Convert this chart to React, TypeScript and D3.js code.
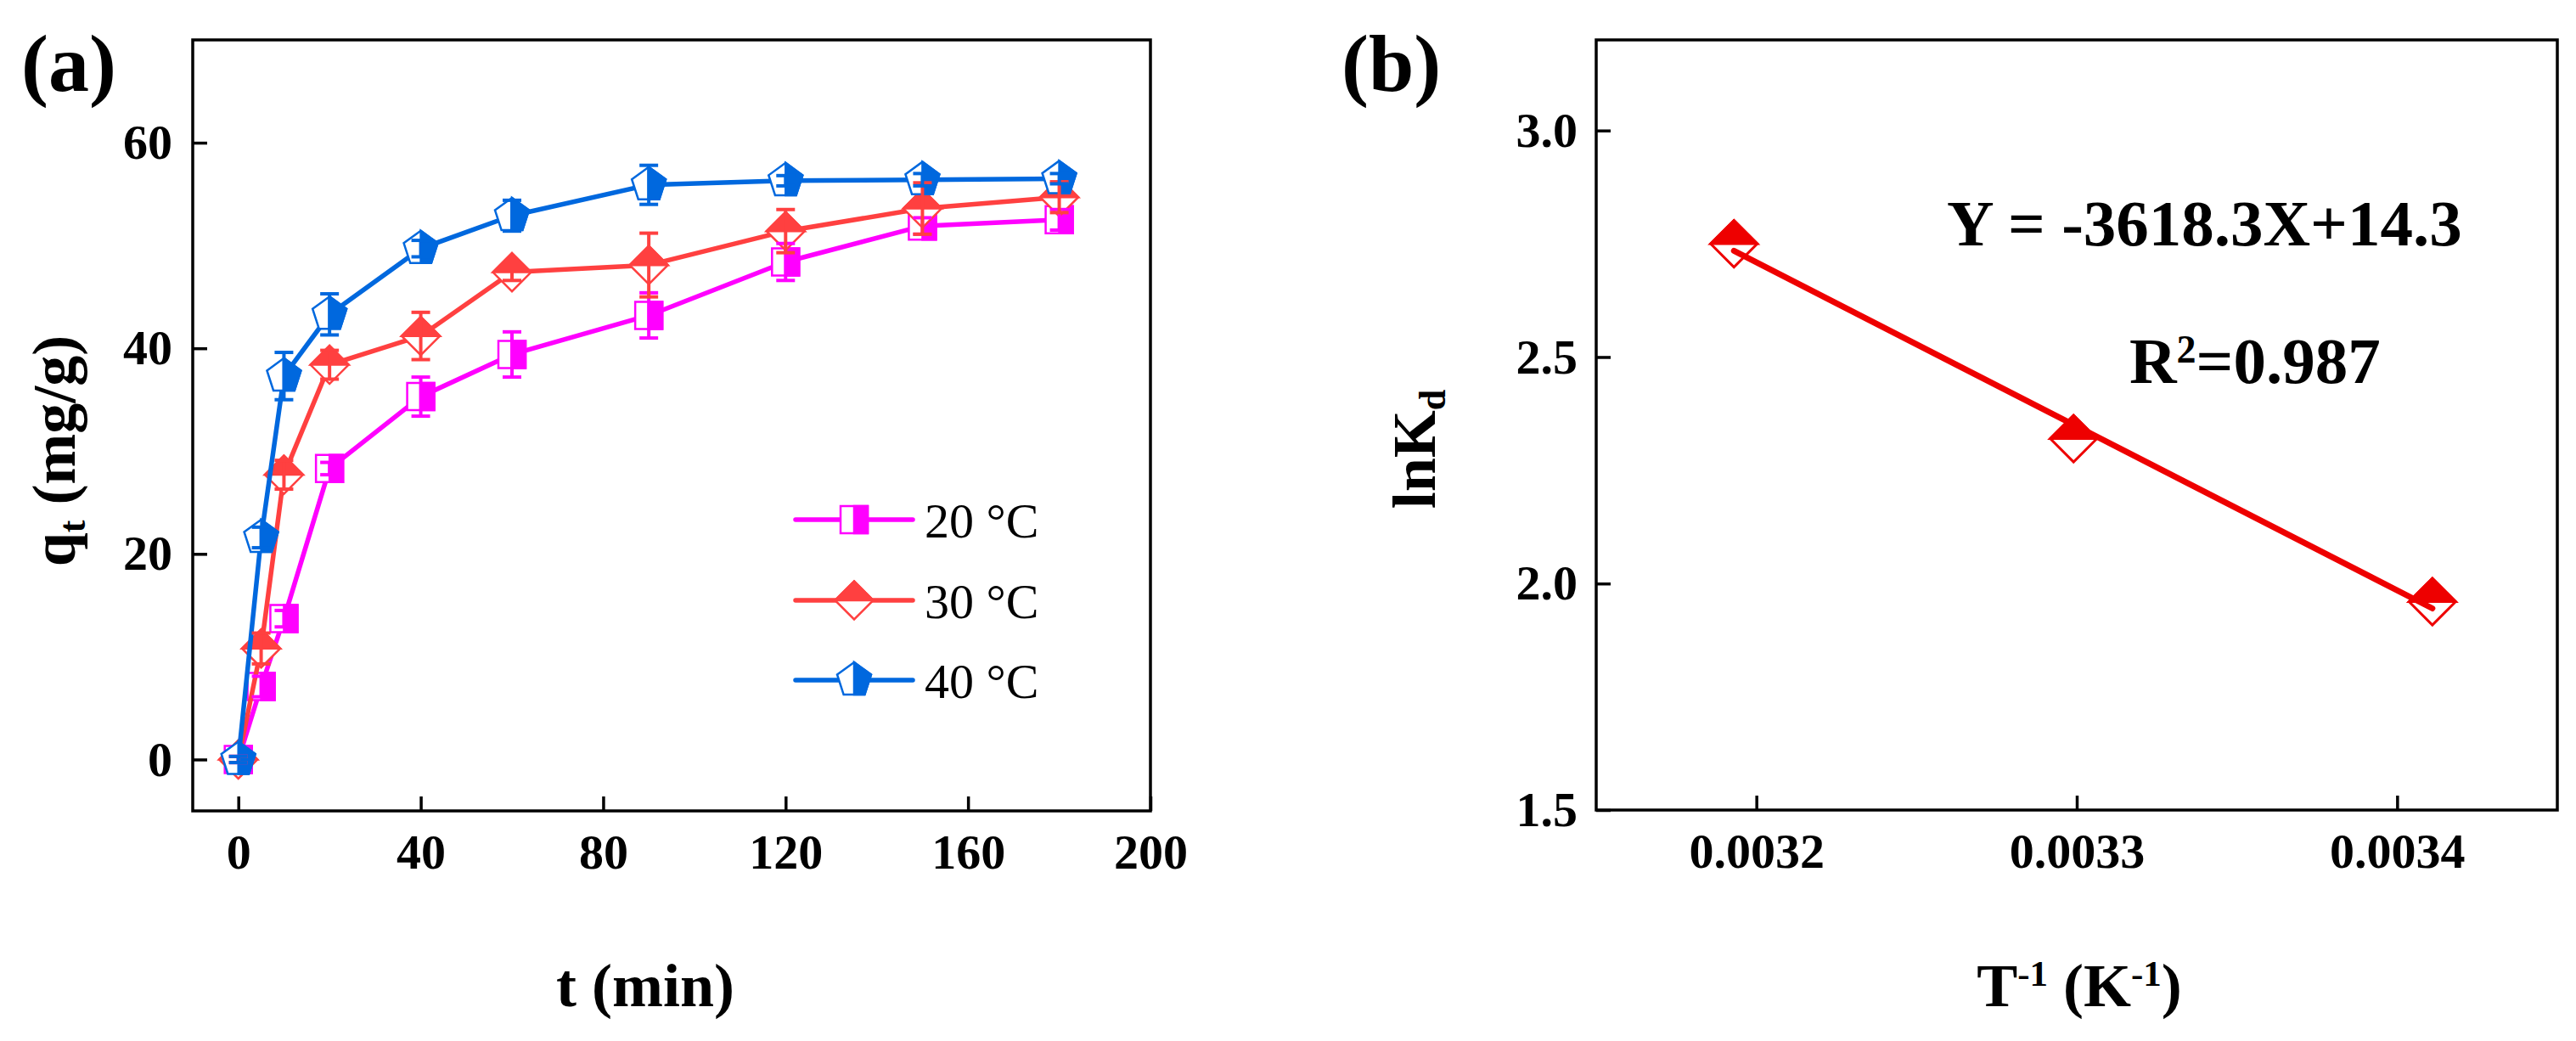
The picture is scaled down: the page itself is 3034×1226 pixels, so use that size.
import { useEffect, useRef } from "react";
import * as d3 from "d3";

// panel (a): adsorption kinetics
const times = [0, 5, 10, 20, 40, 60, 90, 120, 150, 180];
const q20 = [0, 7.1, 13.7, 28.3, 35.3, 39.4, 43.2, 48.4, 51.9, 52.5];
const err20 = [0.3, 1.0, 0.8, 0.6, 1.9, 2.2, 2.2, 1.8, 0.8, 1.0];
const q30 = [0, 10.8, 27.7, 38.4, 41.2, 47.4, 48.1, 51.4, 53.6, 54.7];
const err30 = [0.3, 1.5, 1.4, 1.4, 2.3, 0.8, 3.1, 2.1, 2.5, 1.5];
const q40 = [0, 21.6, 37.3, 43.3, 49.7, 52.9, 55.9, 56.3, 56.4, 56.5];
const err40 = [0.3, 1.0, 2.3, 2.0, 0.8, 1.5, 1.9, 0.5, 0.6, 0.5];
const seriesNames = ["20 °C", "30 °C", "40 °C"];

const xTicksA = [0, 40, 80, 120, 160, 200];
const yTicksA = [0, 20, 40, 60];

// panel (b): van't Hoff plot
const invT = [0.003193, 0.003299, 0.003411];
const lnKd = [2.75, 2.32, 1.96];
const xTicksB = [0.0032, 0.0033, 0.0034];
const yTicksB = [1.5, 2.0, 2.5, 3.0];

const FONT = "'Liberation Serif', 'Times New Roman', Times, serif";

type Shape = "square" | "diamond" | "pentagon";

type Series = {
  name: string;
  values: number[];
  errors: number[];
  color: string;
  shape: Shape;
};

const series: Series[] = [
  { name: seriesNames[0], values: q20, errors: err20, color: "#FF00FF", shape: "square" },
  { name: seriesNames[1], values: q30, errors: err30, color: "#FF4040", shape: "diamond" },
  { name: seriesNames[2], values: q40, errors: err40, color: "#0068DE", shape: "pentagon" },
];

// full outline + filled half for the half-filled markers
const markerPaths = (shape: Shape, size: number): [string, string] => {
  if (shape === "square") {
    const h = size / 2;
    return [`M${-h},${-h}H${h}V${h}H${-h}Z`, `M0,${-h}H${h}V${h}H0Z`];
  }
  if (shape === "diamond") {
    const rx = size / 2;
    const ry = size / 2;
    return [`M0,${-ry}L${rx},0L0,${ry}L${-rx},0Z`, `M${-rx},0L0,${-ry}L${rx},0Z`];
  }
  const r = size / 1.902;
  const pts = d3.range(5).map((k) => {
    const a = (k * 72 * Math.PI) / 180;
    return [r * Math.sin(a), -r * Math.cos(a)];
  });
  const full = "M" + pts.map((p) => p.join(",")).join("L") + "Z";
  const half = `M${pts[0].join(",")}L${pts[1].join(",")}L${pts[2].join(",")}L0,${pts[2][1]}Z`;
  return [full, half];
};

const markerSize: Record<Shape, number> = { square: 32, diamond: 45, pentagon: 40 };

const drawMarker = (
  g: d3.Selection<SVGGElement, unknown, null, undefined>,
  shape: Shape,
  size: number,
  cx: number,
  cy: number,
  color: string,
  sw = 2.5
) => {
  const [full, half] = markerPaths(shape, size);
  const m = g.append("g").attr("transform", `translate(${cx},${cy})`);
  m.append("path").attr("d", full).attr("fill", "#fff").attr("stroke", color).attr("stroke-width", sw).attr("stroke-linejoin", "miter");
  m.append("path").attr("d", half).attr("fill", color).attr("stroke", color).attr("stroke-width", sw).attr("stroke-linejoin", "miter");
};

const styleAxis = (s: d3.Selection<SVGGElement, unknown, null, undefined>) => {
  s.select(".domain").remove();
  s.selectAll(".tick line").attr("stroke", "#000").attr("stroke-width", 3.5);
  s.selectAll(".tick text")
    .attr("fill", "#000")
    .attr("font-family", FONT)
    .attr("font-weight", "bold")
    .attr("font-size", 58);
};

export default function App() {
  const svgRef = useRef<SVGSVGElement | null>(null);

  useEffect(() => {
    if (!svgRef.current) return;
    const svg = d3.select(svgRef.current);
    svg.selectAll("*").remove();
    const root = svg.append("g") as d3.Selection<SVGGElement, unknown, null, undefined>;

    // ---------- panel (a) ----------
    const xA = d3.scaleLinear().domain([-10, 200]).range([227, 1355]);
    const yA = d3.scaleLinear().domain([-5, 70]).range([955, 47]);

    const ga = root.append("g");

    ga.append("g")
      .attr("transform", `translate(0,${yA.range()[0]})`)
      .call(d3.axisBottom(xA).tickValues(xTicksA).tickSizeInner(-17).tickSizeOuter(0).tickPadding(27).tickFormat((d) => String(d)))
      .call(styleAxis);
    ga.append("g")
      .attr("transform", `translate(${xA.range()[0]},0)`)
      .call(d3.axisLeft(yA).tickValues(yTicksA).tickSizeInner(-17).tickSizeOuter(0).tickPadding(24).tickFormat((d) => String(d)))
      .call(styleAxis);

    ga.append("rect")
      .attr("x", xA.range()[0])
      .attr("y", yA.range()[1])
      .attr("width", xA.range()[1] - xA.range()[0])
      .attr("height", yA.range()[0] - yA.range()[1])
      .attr("fill", "none")
      .attr("stroke", "#000")
      .attr("stroke-width", 3.5);

    const line = d3
      .line<number>()
      .x((_, i) => xA(times[i]))
      .y((d) => yA(d));

    series.forEach((s) => {
      const sg = ga.append("g");
      sg.append("path")
        .attr("d", line(s.values))
        .attr("fill", "none")
        .attr("stroke", s.color)
        .attr("stroke-width", 5.5)
        .attr("stroke-linejoin", "round");
      s.values.forEach((v, i) => {
        drawMarker(sg, s.shape, markerSize[s.shape], xA(times[i]), yA(v), s.color);
      });
    });

    // error bars on top
    series.forEach((s) => {
      const eg = ga.append("g").attr("stroke", s.color).attr("stroke-width", 4);
      s.values.forEach((v, i) => {
        const x = xA(times[i]);
        const y1 = yA(v + s.errors[i]);
        const y0 = yA(v - s.errors[i]);
        eg.append("line").attr("x1", x).attr("x2", x).attr("y1", y1).attr("y2", y0);
        eg.append("line").attr("x1", x - 11).attr("x2", x + 11).attr("y1", y1).attr("y2", y1);
        eg.append("line").attr("x1", x - 11).attr("x2", x + 11).attr("y1", y0).attr("y2", y0);
      });
    });

    // legend
    const legendY = [612, 707, 801];
    series.forEach((s, i) => {
      const lg = ga.append("g");
      lg.append("line")
        .attr("x1", 937)
        .attr("x2", 1075)
        .attr("y1", legendY[i])
        .attr("y2", legendY[i])
        .attr("stroke", s.color)
        .attr("stroke-width", 5.5)
        .attr("stroke-linecap", "round");
      drawMarker(lg, s.shape, markerSize[s.shape], 1006, legendY[i], s.color);
      lg.append("text")
        .attr("x", 1089)
        .attr("y", legendY[i] + 21)
        .attr("font-family", FONT)
        .attr("font-size", 58)
        .attr("fill", "#000")
        .text(s.name);
    });

    // titles
    ga.append("text")
      .attr("x", 25)
      .attr("y", 107)
      .attr("font-family", FONT)
      .attr("font-weight", "bold")
      .attr("font-size", 96)
      .text("(a)");

    ga.append("text")
      .attr("x", 760)
      .attr("y", 1185)
      .attr("text-anchor", "middle")
      .attr("font-family", FONT)
      .attr("font-weight", "bold")
      .attr("font-size", 72)
      .text("t (min)");

    const ya = ga.append("text")
      .attr("transform", "translate(88,531) rotate(-90)")
      .attr("text-anchor", "middle")
      .attr("font-family", FONT)
      .attr("font-weight", "bold")
      .attr("font-size", 72);
    ya.append("tspan").text("q");
    ya.append("tspan").attr("font-size", 44).attr("dy", 12).text("t");
    ya.append("tspan").attr("dy", -12).text(" (mg/g)");

    // ---------- panel (b) ----------
    const xB = d3.scaleLinear().domain([0.00315, 0.00345]).range([1880, 3012]);
    const yB = d3.scaleLinear().domain([1.5, 3.2]).range([954, 47]);
    const red = "#EE0000";

    const gb = root.append("g");

    gb.append("g")
      .attr("transform", `translate(0,${yB.range()[0]})`)
      .call(d3.axisBottom(xB).tickValues(xTicksB).tickSizeInner(-17).tickSizeOuter(0).tickPadding(27).tickFormat((d) => d3.format(".4f")(d as number)))
      .call(styleAxis);
    gb.append("g")
      .attr("transform", `translate(${xB.range()[0]},0)`)
      .call(d3.axisLeft(yB).tickValues(yTicksB).tickSizeInner(-17).tickSizeOuter(0).tickPadding(22).tickFormat((d) => d3.format(".1f")(d as number)))
      .call(styleAxis);

    gb.append("rect")
      .attr("x", xB.range()[0])
      .attr("y", yB.range()[1])
      .attr("width", xB.range()[1] - xB.range()[0])
      .attr("height", yB.range()[0] - yB.range()[1])
      .attr("fill", "none")
      .attr("stroke", "#000")
      .attr("stroke-width", 3.5);

    invT.forEach((x, i) => {
      drawMarker(gb, "diamond", 55, xB(x), yB(lnKd[i]), red, 3);
    });

    // least squares fit
    const mx = d3.mean(invT)!;
    const my = d3.mean(lnKd)!;
    const sxy = d3.sum(invT, (x, i) => (x - mx) * (lnKd[i] - my));
    const sxx = d3.sum(invT, (x) => (x - mx) ** 2);
    const slope = sxy / sxx;
    const icpt = my - slope * mx;
    const xEnds = d3.extent(invT) as [number, number];
    gb.append("path")
      .attr("d", d3.line<number>().x((x) => xB(x)).y((x) => yB(icpt + slope * x))(xEnds))
      .attr("fill", "none")
      .attr("stroke", red)
      .attr("stroke-width", 7)
      .attr("stroke-linecap", "round");

    gb.append("text")
      .attr("x", 2293)
      .attr("y", 289)
      .attr("font-family", FONT)
      .attr("font-weight", "bold")
      .attr("font-size", 77)
      .text("Y = -3618.3X+14.3");

    const r2 = gb.append("text")
      .attr("x", 2508)
      .attr("y", 451)
      .attr("font-family", FONT)
      .attr("font-weight", "bold")
      .attr("font-size", 77);
    r2.append("tspan").text("R");
    r2.append("tspan").attr("font-size", 46).attr("dy", -24).text("2");
    r2.append("tspan").attr("dy", 24).text("=0.987");

    gb.append("text")
      .attr("x", 1580)
      .attr("y", 107)
      .attr("font-family", FONT)
      .attr("font-weight", "bold")
      .attr("font-size", 96)
      .text("(b)");

    const xb = gb.append("text")
      .attr("x", 2449)
      .attr("y", 1185)
      .attr("text-anchor", "middle")
      .attr("font-family", FONT)
      .attr("font-weight", "bold")
      .attr("font-size", 72);
    xb.append("tspan").text("T");
    xb.append("tspan").attr("font-size", 43).attr("dy", -24).text("-1");
    xb.append("tspan").attr("dy", 24).text(" (K");
    xb.append("tspan").attr("font-size", 43).attr("dy", -24).text("-1");
    xb.append("tspan").attr("dy", 24).text(")");

    const yb = gb.append("text")
      .attr("transform", "translate(1690,529) rotate(-90)")
      .attr("text-anchor", "middle")
      .attr("font-family", FONT)
      .attr("font-weight", "bold")
      .attr("font-size", 72);
    yb.append("tspan").text("lnK");
    yb.append("tspan").attr("font-size", 44).attr("dy", 12).text("d");
  }, []);

  return (
    <svg
      ref={svgRef}
      width={3034}
      height={1226}
      style={{ position: "absolute", left: 0, top: 0, background: "#fff" }}
    />
  );
}
